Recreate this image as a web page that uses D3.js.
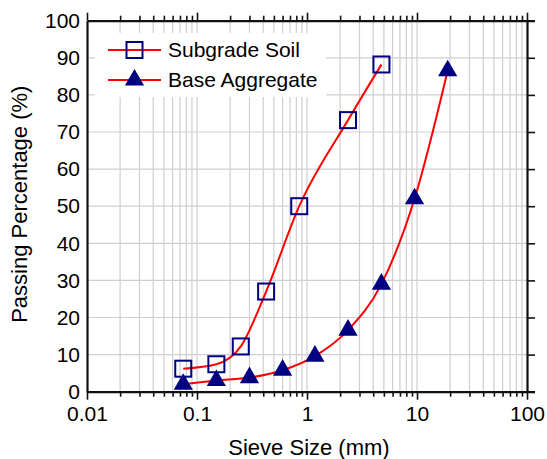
<!DOCTYPE html>
<html lang="en">
<head>
<meta charset="UTF-8">
<script src="https://d3js.org/d3.v7.min.js"></script>
<style>
  body { margin: 0; background: #fff; }
  svg { display: block; font-family: "Liberation Sans", Arial, sans-serif; }
</style>
</head>
<body>
<div id="chart"></div>
<script>
// sieve sizes (mm) and percent passing
const subgradeSize = [0.075, 0.15, 0.25, 0.425, 0.85, 2.36, 4.75];
const subgradePass = [6.2, 7.4, 12.2, 27, 50, 73.2, 88.2];
const baseSize = [0.075, 0.15, 0.3, 0.6, 1.18, 2.36, 4.75, 9.5, 19];
const basePass = [2, 3, 3.8, 5.8, 9.6, 16.6, 29, 52, 86.5];
const seriesNames = ["Subgrade Soil", "Base Aggregate"];
const xTickLabels = ["0.01", "0.1", "1", "10", "100"];
const yTickValues = [0, 10, 20, 30, 40, 50, 60, 70, 80, 90, 100];

const W = 547, H = 459;
const pLeft = 87, pRight = 527, pTop = 20.7, pBottom = 391.7;

const svg = d3.select("#chart").append("svg")
    .attr("width", W)
    .attr("height", H);

const x = d3.scaleLog().domain([0.01, 100]).range([pLeft, pRight]);
const y = d3.scaleLinear().domain([0, 100]).range([pBottom, pTop]);

// all log positions 1..9 per decade
const logTicks = [];
for (let e = -2; e < 2; e++) {
    for (let m = 1; m < 10; m++) logTicks.push(m * Math.pow(10, e));
}
logTicks.push(100);

// grid
svg.append("g").selectAll("line")
    .data(logTicks.filter(d => d > 0.0101 && d < 99))
    .enter().append("line")
    .attr("x1", d => x(d)).attr("x2", d => x(d))
    .attr("y1", pTop).attr("y2", pBottom)
    .attr("stroke", "#cfcfcf").attr("stroke-width", 1.2);
svg.append("g").selectAll("line")
    .data(yTickValues.filter(d => d > 0 && d < 100))
    .enter().append("line")
    .attr("x1", pLeft).attr("x2", pRight)
    .attr("y1", d => y(d)).attr("y2", d => y(d))
    .attr("stroke", "#cfcfcf").attr("stroke-width", 1.2);

// legend background hides the grid
svg.append("rect")
    .attr("x", 95).attr("y", 33).attr("width", 231).attr("height", 64)
    .attr("fill", "#fff");

// axes: ticks outward on bottom, top, right; none on left
const tickSize = d => (Math.abs(Math.log10(d) - Math.round(Math.log10(d))) < 1e-9 ? 8 : 5);

const xBottom = d3.axisBottom(x).tickValues(logTicks).tickSizeOuter(0)
    .tickSize(0).tickFormat(d => {
        const i = [0.01, 0.1, 1, 10, 100].findIndex(v => Math.abs(v - d) < 1e-9);
        return i >= 0 ? xTickLabels[i] : "";
    });
const gB = svg.append("g").attr("transform", `translate(0,${pBottom})`).call(xBottom);
gB.selectAll(".tick line").attr("y2", d => tickSize(d));
gB.selectAll(".tick text").attr("y", 14).attr("font-size", 21).attr("font-family", "Liberation Sans, Arial, sans-serif").attr("fill", "#000");

const xTop = d3.axisTop(x).tickValues(logTicks).tickSize(0).tickFormat("");
const gT = svg.append("g").attr("transform", `translate(0,${pTop})`).call(xTop);
gT.selectAll(".tick line").attr("y2", d => -tickSize(d));

const yLeft = d3.axisLeft(y).tickValues(yTickValues).tickSize(0).tickPadding(7);
const gL = svg.append("g").attr("transform", `translate(${pLeft},0)`).call(yLeft);
gL.selectAll(".tick text").attr("font-size", 21).attr("font-family", "Liberation Sans, Arial, sans-serif").attr("fill", "#000");

const yRight = d3.axisRight(y).tickValues(yTickValues).tickSize(8).tickFormat("");
const gR = svg.append("g").attr("transform", `translate(${pRight},0)`).call(yRight);

[gB, gT, gL, gR].forEach(g => {
    g.select(".domain").attr("stroke", "#111").attr("stroke-width", 2.2);
    g.selectAll(".tick line").attr("stroke", "#111").attr("stroke-width", 1.6);
});

// axis titles
svg.append("text")
    .attr("x", (pLeft + pRight) / 2 + 2).attr("y", 455)
    .attr("text-anchor", "middle").attr("font-size", 22)
    .text("Sieve Size (mm)");
svg.append("text")
    .attr("transform", `translate(27,${(pTop + pBottom) / 2 - 2}) rotate(-90)`)
    .attr("text-anchor", "middle").attr("font-size", 22)
    .text("Passing Percentage (%)");

// curves
const line = d3.line()
    .x(d => x(d[0])).y(d => y(d[1]))
    .curve(d3.curveMonotoneX);
const subgrade = subgradeSize.map((s, i) => [s, subgradePass[i]]);
const base = baseSize.map((s, i) => [s, basePass[i]]);

[subgrade, base].forEach(data => {
    svg.append("path").attr("d", line(data))
        .attr("fill", "none").attr("stroke", "#ff0000").attr("stroke-width", 2);
});

const navy = "#000080";
const tri = d3.symbol().type(d3.symbolTriangle).size(160);

svg.append("g").selectAll("rect")
    .data(subgrade).enter().append("rect")
    .attr("x", d => x(d[0]) - 8).attr("y", d => y(d[1]) - 8)
    .attr("width", 16).attr("height", 16)
    .attr("fill", "none").attr("stroke", navy).attr("stroke-width", 2);

svg.append("g").selectAll("path")
    .data(base).enter().append("path")
    .attr("d", tri)
    .attr("transform", d => `translate(${x(d[0])},${y(d[1])})`)
    .attr("fill", navy);

// legend
const legY = [50, 80];
seriesNames.forEach((name, i) => {
    svg.append("line")
        .attr("x1", 108).attr("x2", 161)
        .attr("y1", legY[i]).attr("y2", legY[i])
        .attr("stroke", "#ff0000").attr("stroke-width", 2);
    if (i === 0) {
        svg.append("rect")
            .attr("x", 126.5).attr("y", legY[i] - 8).attr("width", 16).attr("height", 16)
            .attr("fill", "none").attr("stroke", navy).attr("stroke-width", 2);
    } else {
        svg.append("path").attr("d", tri)
            .attr("transform", `translate(134.5,${legY[i]})`)
            .attr("fill", navy);
    }
    svg.append("text")
        .attr("x", 168).attr("y", legY[i])
        .attr("dy", "0.35em").attr("font-size", 21)
        .text(name);
});
</script>
</body>
</html>
